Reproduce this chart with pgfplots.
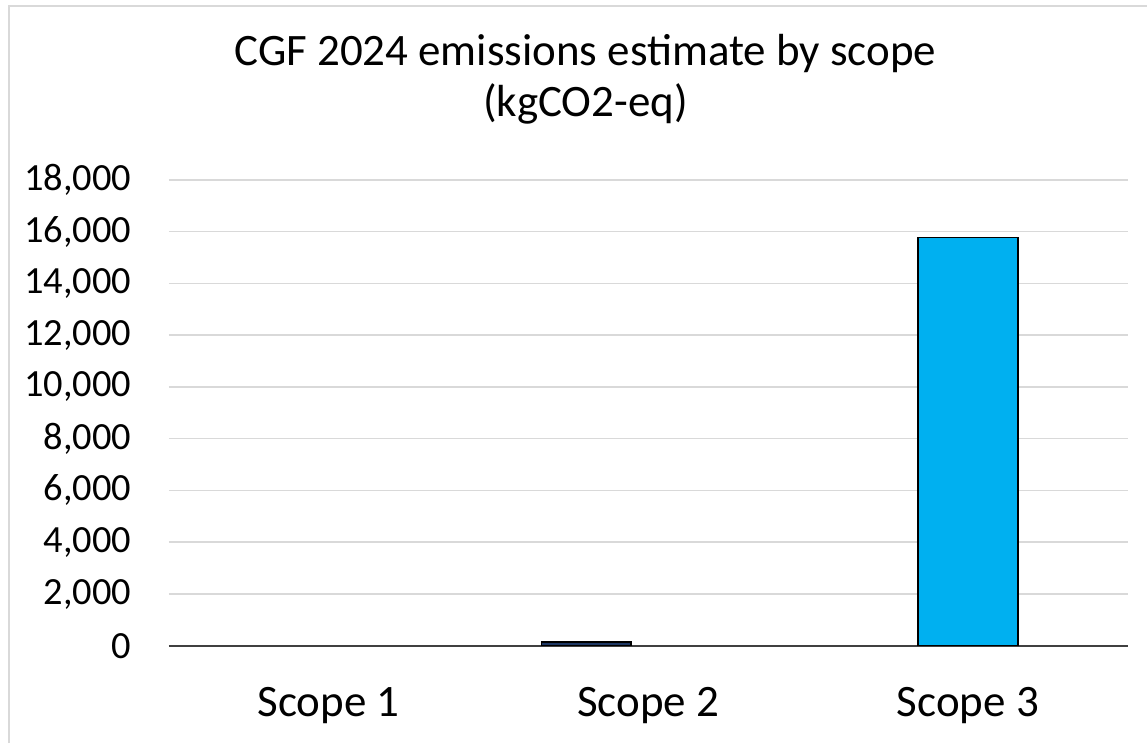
\documentclass[border=0pt]{standalone}
\usepackage{fontspec}
\setmainfont{Carlito}
\usepackage{pgfplots}
\pgfplotsset{compat=1.18}
\definecolor{cyanbar}{HTML}{00B0F0}
\definecolor{navybar}{HTML}{1F3864}
\definecolor{gridc}{HTML}{D9D9D9}
\begin{document}
\begin{tikzpicture}[x=1pt,y=1pt]
\path (0,0) rectangle (1148,744);
\draw[gridc,line width=2.5pt] (9,0) -- (9,738) -- (1148,738);
\node[align=center,font=\fontsize{45}{51}\selectfont] at (586,665) {CGF 2024 emissions estimate by scope\\(kgCO2-eq)};
\begin{axis}[
  at={(169pt,97.5pt)}, anchor=south west,
  scale only axis, width=960pt, height=466.5pt,
  xmin=-0.5, xmax=2.5, ymin=0, ymax=18000,
  ytick={0,2000,...,18000},
  scaled y ticks=false,
  xtick={0,1,2}, xticklabels={Scope 1,Scope 2,Scope 3},
  ymajorgrids, grid style={gridc,line width=1.5pt},
  axis x line*=bottom, axis y line*=left,
  y axis line style={draw=none},
  x axis line style={-,line width=1.5pt,black!75},
  major tick length=0pt,
  yticklabel style={font=\fontsize{38.5}{44}\selectfont, xshift=-34pt},
  xticklabel style={font=\fontsize{45}{52}\selectfont, yshift=-38pt},
  /pgf/number format/.cd, fixed, 1000 sep={,}, assume math mode=true,
]
\addplot[ybar, bar width=0.28, fill=navybar, draw=black, line width=1.5pt] coordinates {(0.806,140)};
\addplot[ybar, bar width=0.3125, fill=cyanbar, draw=black, line width=1.5pt] coordinates {(2,15780)};
\end{axis}
\end{tikzpicture}
\end{document}
